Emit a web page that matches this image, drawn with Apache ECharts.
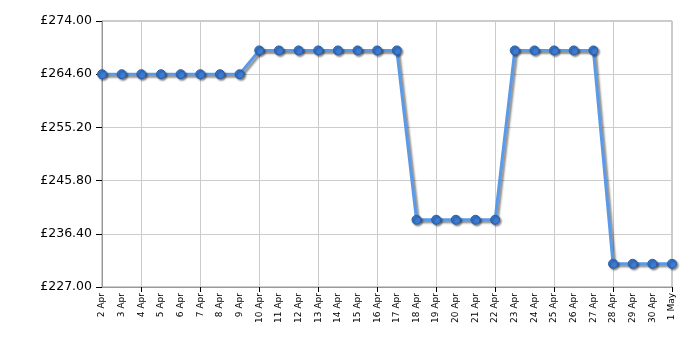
<!DOCTYPE html>
<html><head><meta charset="utf-8">
<script src="https://cdn.jsdelivr.net/npm/echarts@6/dist/echarts.min.js"></script>
<style>html,body{margin:0;padding:0;background:#fff}#c{width:700px;height:350px}</style>
</head><body><div id="c"></div>
<script>
const categories = ['2 Apr','3 Apr','4 Apr','5 Apr','6 Apr','7 Apr','8 Apr','9 Apr','10 Apr','11 Apr','12 Apr','13 Apr','14 Apr','15 Apr','16 Apr','17 Apr','18 Apr','19 Apr','20 Apr','21 Apr','22 Apr','23 Apr','24 Apr','25 Apr','26 Apr','27 Apr','28 Apr','29 Apr','30 Apr','1 May'];
const prices = [264.60,264.60,264.60,264.60,264.60,264.60,264.60,264.60,
  268.80,268.80,268.80,268.80,268.80,268.80,268.80,268.80,
  238.88,238.88,238.88,238.88,238.88,
  268.80,268.80,268.80,268.80,268.80,
  231.10,231.10,231.10,231.10];
const yMin = 227.0, yMax = 274.0, yStep = 9.4;

const chart = echarts.init(document.getElementById('c'), null, {renderer:'canvas'});
const gridShow = i => i % 3 === 2;
chart.setOption({
  animation:false,
  grid:{left:102,right:28,top:21,bottom:63,containLabel:false,show:true,borderColor:'#999',borderWidth:1,backgroundColor:'transparent'},
  xAxis:{
    type:'category', data:categories, boundaryGap:false,
    axisLine:{lineStyle:{color:'#999',width:1}},
    axisTick:{show:true,interval:gridShow,length:5,lineStyle:{color:'#000'}},
    splitLine:{show:true,interval:gridShow,lineStyle:{color:'#ccc',width:1}},
    axisLabel:{interval:0,rotate:90,fontFamily:'DejaVu Sans',fontSize:9,color:'#000',margin:6}
  },
  yAxis:{
    type:'value', min:yMin, max:yMax, interval:yStep,
    axisLine:{show:true,lineStyle:{color:'#999',width:1}},
    axisTick:{show:true,length:6,lineStyle:{color:'#000'}},
    splitLine:{show:true,lineStyle:{color:'#ccc',width:1}},
    axisLabel:{fontFamily:'DejaVu Sans',fontSize:12.5,color:'#000',margin:10,
      formatter:v=>'£'+v.toFixed(2)}
  },
  series:[{
    type:'line', data:prices, symbol:'circle', symbolSize:9,
    lineStyle:{color:'#5b9ae6',width:3,shadowColor:'rgba(0,0,0,0.45)',shadowBlur:2,shadowOffsetX:2,shadowOffsetY:2},
    itemStyle:{color:'#3b7bd4',borderColor:'#2a5fa8',borderWidth:1,shadowColor:'rgba(0,0,0,0.45)',shadowBlur:2,shadowOffsetX:1.5,shadowOffsetY:1.5}
  }]
});
</script></body></html>
